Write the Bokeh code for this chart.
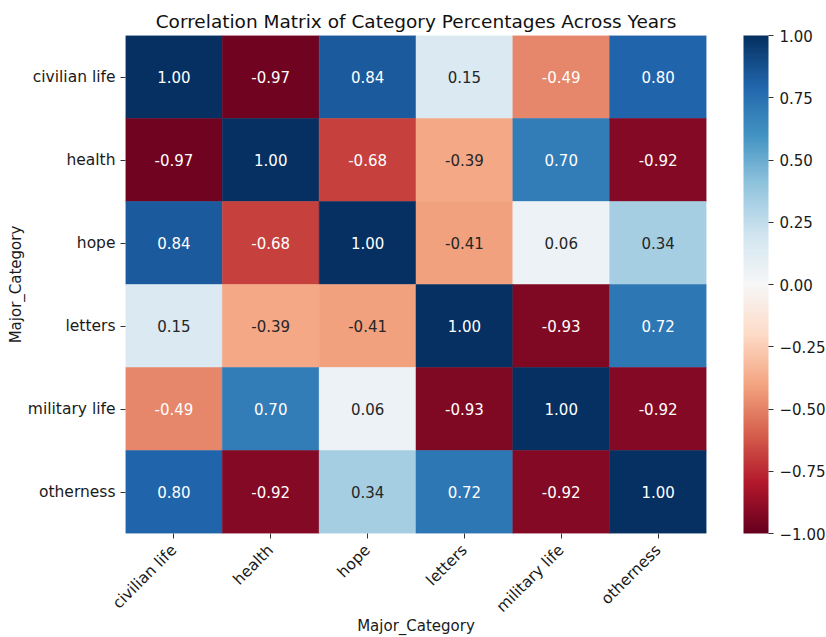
import math
from bokeh.plotting import figure
from bokeh.models import (ColumnDataSource, LinearColorMapper, ColorBar, FixedTicker,
                          CustomJSTickFormatter, FactorRange)
from bokeh.core.properties import value
from bokeh.embed import file_html
from bokeh.resources import INLINE

categories = ["civilian life", "health", "hope", "letters", "military life", "otherness"]
row_civilian = [1.00, -0.97, 0.84, 0.15, -0.49, 0.80]
row_health = [-0.97, 1.00, -0.68, -0.39, 0.70, -0.92]
row_hope = [0.84, -0.68, 1.00, -0.41, 0.06, 0.34]
row_letters = [0.15, -0.39, -0.41, 1.00, -0.93, 0.72]
row_military = [-0.49, 0.70, 0.06, -0.93, 1.00, -0.92]
row_otherness = [0.80, -0.92, 0.34, 0.72, -0.92, 1.00]
rows = [row_civilian, row_health, row_hope, row_letters, row_military, row_otherness]
cbar_ticks = [-1.0, -0.75, -0.5, -0.25, 0.0, 0.25, 0.5, 0.75, 1.0]

# RdBu (reversed: red = -1, blue = +1), interpolated to 256 colours
anchors = ['#67001f', '#b2182b', '#d6604d', '#f4a582', '#fddbc7', '#f7f7f7',
           '#d1e5f0', '#92c5de', '#4393c3', '#2166ac', '#053061']

def hex2rgb(h):
    return tuple(int(h[i:i + 2], 16) for i in (1, 3, 5))

argb = [hex2rgb(a) for a in anchors]
palette = []
N = 256
for i in range(N):
    t = i / (N - 1) * (len(argb) - 1)
    k = min(int(t), len(argb) - 2)
    f = t - k
    c = tuple(round(argb[k][j] + (argb[k + 1][j] - argb[k][j]) * f) for j in range(3))
    palette.append('#%02x%02x%02x' % c)

def lum(hexc):
    r, g, b = [x / 255 for x in hex2rgb(hexc)]
    def ch(c):
        return c / 12.92 if c <= 0.03928 else ((c + 0.055) / 1.055) ** 2.4
    return 0.2126 * ch(r) + 0.7152 * ch(g) + 0.0722 * ch(b)

xs, ys, vs, labels, tcs = [], [], [], [], []
for ri, rname in enumerate(categories):
    for ci, cname in enumerate(categories):
        v = rows[ri][ci]
        xs.append(cname)
        ys.append(rname)
        vs.append(v)
        labels.append("%.2f" % v)
        idx = min(N - 1, int((v + 1) / 2 * N))
        tcs.append("#262626" if lum(palette[idx]) > 0.408 else "#ffffff")

src = ColumnDataSource(dict(x=xs, y=ys, v=vs, label=labels, tc=tcs))
mapper = LinearColorMapper(palette=palette, low=-1, high=1)

FONT = "DejaVu Sans"
p = figure(frame_width=581, frame_height=498, output_backend="svg", toolbar_location=None,
           x_range=FactorRange(factors=categories),
           y_range=FactorRange(factors=list(reversed(categories))),
           min_border_left=125, min_border_right=0, min_border_top=35, min_border_bottom=96,
           title="Correlation Matrix of Category Percentages Across Years")
p.rect(x='x', y='y', width=1, height=1, source=src,
       fill_color={'field': 'v', 'transform': mapper},
       line_color={'field': 'v', 'transform': mapper}, line_width=0.5)
p.text(x='x', y='y', text='label', source=src, text_color='tc', text_align='center',
       text_baseline='middle', text_font=value(FONT), text_font_size="15px")

p.title.align = 'center'
p.title.text_font = FONT
p.title.text_font_size = "18.5px"
p.title.text_font_style = "normal"
p.title.text_color = "#111111"
p.title.offset = 0
p.title.standoff = 8

p.grid.visible = False
p.outline_line_color = None
for ax in (p.xaxis[0], p.yaxis[0]):
    ax.axis_line_color = None
    ax.major_tick_in = 0
    ax.major_tick_out = 5
    ax.major_tick_line_color = "#333333"
    ax.major_label_standoff = 5
    ax.major_label_text_font = FONT
    ax.major_label_text_font_size = "15.5px"
    ax.major_label_text_color = "#1a1a1a"
    ax.axis_label = "Major_Category"
    ax.axis_label_text_font = FONT
    ax.axis_label_text_font_size = "15px"
    ax.axis_label_text_font_style = "normal"
    ax.axis_label_text_color = "#1a1a1a"
p.xaxis.major_label_orientation = math.pi / 4
p.xaxis.major_label_standoff = 9
p.xaxis.axis_label_standoff = -8
p.yaxis.axis_label_standoff = 0

cb = ColorBar(color_mapper=mapper, width=25,
              ticker=FixedTicker(ticks=cbar_ticks),
              formatter=CustomJSTickFormatter(code="return tick.toFixed(2).replace('-', '\u2212');"),
              major_tick_in=0, major_tick_out=5, major_tick_line_color="#333333",
              major_label_text_font=FONT, major_label_text_font_size="15px",
              major_label_text_color="#1a1a1a", label_standoff=6,
              bar_line_color=None, border_line_color=None, background_fill_color=None,
              padding=0, margin=0, location=(37, 0))
p.add_layout(cb, 'right')

open("out.html", "w").write(file_html(p, INLINE))
